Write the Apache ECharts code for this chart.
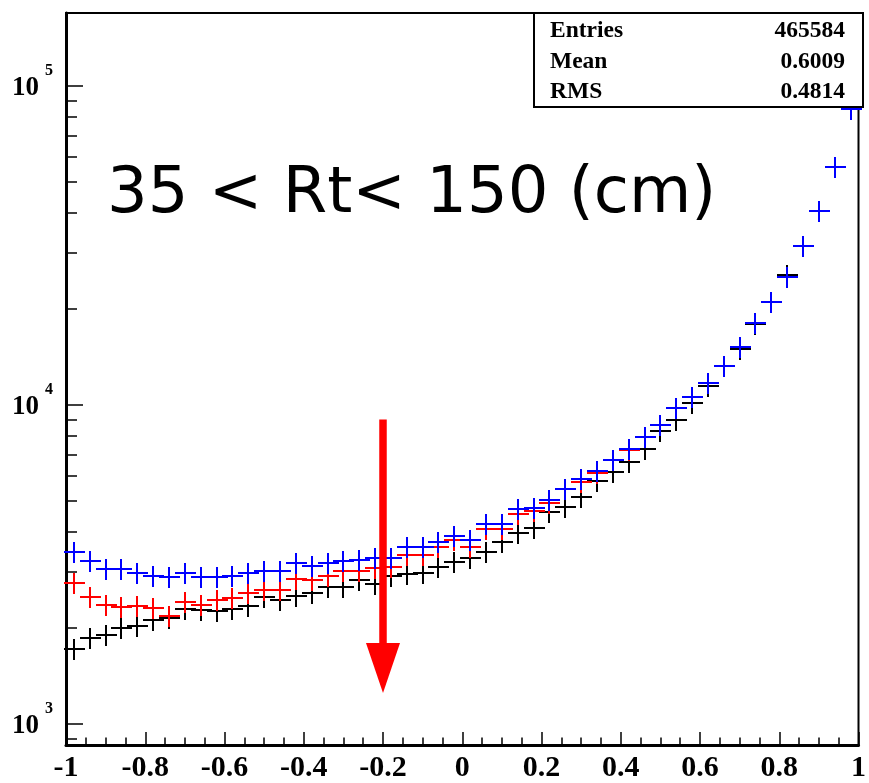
<!DOCTYPE html>
<html><head><meta charset="utf-8">
<script src="https://cdn.jsdelivr.net/npm/echarts@6/dist/echarts.min.js"></script>
<style>html,body{margin:0;padding:0;background:#fff}#c{width:869px;height:783px}</style>
</head><body><div id="c"></div>
<script>
const binCenters = [-0.98,-0.94,-0.90,-0.86,-0.82,-0.78,-0.74,-0.70,-0.66,-0.62,-0.58,-0.54,-0.50,-0.46,-0.42,-0.38,-0.34,-0.30,-0.26,-0.22,-0.18,-0.14,-0.10,-0.06,-0.02,0.02,0.06,0.10,0.14,0.18,0.22,0.26,0.30,0.34,0.38,0.42,0.46,0.50,0.54,0.58,0.62,0.66,0.70,0.74,0.78,0.82,0.86,0.90,0.94,0.98];
const blackCounts = [1719,1857,1901,1995,2033,2118,2144,2294,2277,2261,2294,2344,2495,2448,2519,2568,2683,2683,2828,2748,2910,2953,2981,3099,3227,3322,3468,3728,3961,4125,4609,4772,5158,5757,6179,6643,7262,8288,8974,10123,11495,13255,14951,17906,20986,25556,31508,40572,55847,84723];
const redCounts = [2761,2506,2361,2332,2344,2305,2181,2418,2361,2448,2477,2568,2630,2630,2842,2828,2910,3018,3018,3077,3099,3386,3386,3575,3775,3596,4095,4095,4554,4664,4918,5441,5749,6108,6724,7226,7956,8657,9766,10617,11747,13255,15169,18113,20986,25246,31508,40572,55847,84723];
const blueCounts = [3468,3243,3055,3055,2981,2910,2896,2981,2884,2896,2910,2981,3018,3018,3203,3128,3203,3250,3267,3307,3307,3580,3580,3715,3893,3775,4237,4237,4721,4745,5037,5441,5861,6223,6724,7262,7956,8657,9766,10617,11747,13255,15169,18113,20986,25246,31508,40572,55847,84723];
const yMajorTicks = [1000, 10000, 100000];
const yMinorTicks = [900,2000,3000,4000,5000,6000,7000,8000,9000,20000,30000,40000,50000,60000,70000,80000,90000];
const statsLabels = ['Entries','Mean','RMS'];
const statsValues = ['465584','0.6009','0.4814'];
const titleText = '35 < Rt< 150 (cm)';
const arrowX = -0.2, arrowFrom = 9000, arrowTo = 1250;

const chart = echarts.init(document.getElementById('c'));
function crossItem(color){
  return function(params, api){
    const p = api.coord([api.value(0), api.value(1)]);
    const cx = Math.round(p[0]), cy = Math.round(p[1]);
    const h = 10;
    return {type:'group', children:[
      {type:'rect', shape:{x:cx-h, y:cy-1, width:2*h+1, height:2}, style:{fill:color}},
      {type:'rect', shape:{x:cx-1, y:cy-h, width:2, height:2*h+1}, style:{fill:color}}
    ]};
  };
}
function mk(counts){ return binCenters.map((x,i)=>[x, counts[i]]); }
const serifFont = '"Liberation Serif","Times New Roman",serif';
const statGraphics = [{type:'rect', z:100, shape:{x:534,y:13,width:329,height:94}, style:{fill:'#fff',stroke:'#000',lineWidth:2}}];
const rowY = [31, 62, 92];
statsLabels.forEach((t,i)=>{
  statGraphics.push({type:'text', z:101, x:550, y:rowY[i], style:{text:t, fontFamily:serifFont, fontWeight:'bold', fontSize:23.5, fill:'#000', verticalAlign:'middle', align:'left'}});
  statGraphics.push({type:'text', z:101, x:845, y:rowY[i], style:{text:statsValues[i], fontFamily:serifFont, fontWeight:'bold', fontSize:23.5, fill:'#000', verticalAlign:'middle', align:'right'}});
});
const logAxisBase = {type:'log', logBase:10, min:859, max:169500, splitLine:{show:false}};
chart.setOption({
  animation:false,
  backgroundColor:'#fff',
  grid:{left:66, right:6, top:13, bottom:38, show:true, borderColor:'#000', borderWidth:2, containLabel:false},
  xAxis:{type:'value', min:-1, max:1, interval:0.2,
    axisLine:{show:true, onZero:false, lineStyle:{color:'#000', width:3}},
    axisTick:{show:true, inside:true, length:13, lineStyle:{color:'#000', width:1.5}},
    minorTick:{show:true, splitNumber:4, length:7.5, lineStyle:{color:'#000', width:1.5}},
    splitLine:{show:false},
    axisLabel:{show:true, margin:8, color:'#000', fontFamily:serifFont, fontWeight:'bold', fontSize:30, showMinLabel:true, showMaxLabel:true}
  },
  yAxis:[
    Object.assign({}, logAxisBase, {position:'left',
      axisLine:{show:true, onZero:false, lineStyle:{color:'#000', width:3}},
      axisTick:{show:true, inside:true, length:17, customValues:yMajorTicks, lineStyle:{color:'#000', width:1.5}},
      axisLabel:{show:true, margin:13, customValues:yMajorTicks,
        formatter:function(v){ return '{b|10}{e|' + Math.round(Math.log10(v)) + '}'; },
        rich:{b:{fontFamily:serifFont, fontWeight:'bold', fontSize:27, color:'#000', lineHeight:30, padding:[4,0,0,0]},
              e:{fontFamily:serifFont, fontWeight:'bold', fontSize:16, color:'#000', lineHeight:16, padding:[0,0,30,6]}}}
    }),
    Object.assign({}, logAxisBase, {position:'left', offset:0,
      axisLine:{show:false, onZero:false},
      axisTick:{show:true, inside:true, length:11, customValues:yMinorTicks, lineStyle:{color:'#000', width:1.5}},
      axisLabel:{show:false}
    })
  ],
  graphic:[
    {type:'text', x:107, y:195, z:50, style:{text:titleText, fontFamily:'"DejaVu Sans"', fontSize:64, fill:'#000', verticalAlign:'middle', align:'left'}}
  ].concat(statGraphics),
  series:[
    {type:'custom', name:'black', yAxisIndex:0, renderItem:crossItem('#000'), data:mk(blackCounts), z:2},
    {type:'custom', name:'red', yAxisIndex:0, renderItem:crossItem('#ff0000'), data:mk(redCounts), z:3},
    {type:'custom', name:'blue', yAxisIndex:0, renderItem:crossItem('#0000ff'), data:mk(blueCounts), z:4},
    {type:'custom', name:'arrow', yAxisIndex:0, z:5, data:[[arrowX, arrowFrom, arrowTo]],
      renderItem:function(params, api){
        const a = api.coord([api.value(0), api.value(1)]);
        const b = api.coord([api.value(0), api.value(2)]);
        const headH = 50, headW = 17;
        return {type:'group', children:[
          {type:'rect', shape:{x:a[0]-3.75, y:a[1], width:7.5, height:(b[1]-headH)-a[1]+1}, style:{fill:'#ff0000'}},
          {type:'polygon', shape:{points:[[b[0]-headW, b[1]-headH],[b[0]+headW, b[1]-headH],[b[0], b[1]]]}, style:{fill:'#ff0000'}}
        ]};
      }}
  ]
});
</script></body></html>
